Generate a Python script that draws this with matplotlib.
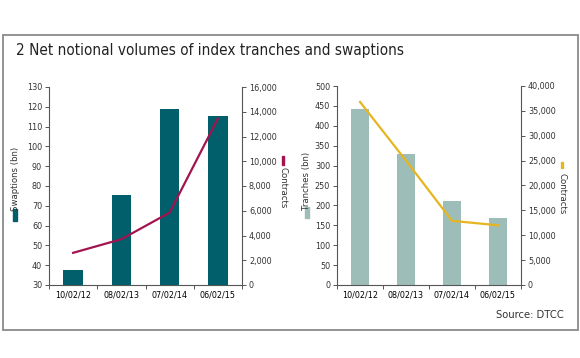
import matplotlib
matplotlib.use("Agg")
import matplotlib.pyplot as plt
from matplotlib.patches import Rectangle
import numpy as np

DATES = ["10/02/12", "08/02/13", "07/02/14", "06/02/15"]
SWAPTIONS_BN = [37.6, 75.6, 119.0, 115.5]
SWAPTION_CONTRACTS = [2600, 3700, 5850, 13450]
TRANCHES_BN = [441, 329, 211, 168]
TRANCHE_CONTRACTS = [36800, 25000, 12900, 12000]

TEAL = "#005f6b"
CRIMSON = "#a3144f"
SAGE = "#9dbdb8"
GOLD = "#e6b520"
TEXT = "#333333"
AXIS = "#555555"

plt.rcParams["font.family"] = ["DejaVu Sans"]
plt.rcParams["font.stretch"] = "condensed"
plt.rcParams["font.size"] = 6.5

W, H = 580, 358
fig = plt.figure(figsize=(W / 100, H / 100), dpi=100)


def fx(px):
    return px / W


def fy(py):
    return 1 - py / H


def style_axes(ax, ax2):
    for a in (ax, ax2):
        a.spines["top"].set_visible(False)
        for s in a.spines.values():
            s.set_color(AXIS)
            s.set_linewidth(0.8)
        a.tick_params(colors=TEXT, labelsize=6.5, length=3, width=0.7, pad=2, color=AXIS)
    ax.spines["right"].set_visible(False)
    ax2.spines["left"].set_visible(False)
    ax2.spines["bottom"].set_visible(False)
    x = np.arange(len(DATES))
    ax.set_xlim(-0.5, len(DATES) - 0.5)
    ax.set_xticks(np.arange(len(DATES) + 1) - 0.5)
    ax.set_xticklabels([])
    ax.set_xticks(x, minor=True)
    ax.set_xticklabels(DATES, minor=True)
    ax.tick_params(axis="x", which="minor", length=0, pad=4)
    return x


def add_label(text, px, py_top, py_bot, rotation, mark_top, mark_bot, mark_w, color):
    fig.text(fx(px), (fy(py_top) + fy(py_bot)) / 2, text, rotation=rotation,
             ha="center", va="center", color=TEXT, fontsize=6.8)
    fig.patches.append(Rectangle((fx(px - mark_w / 2), fy(mark_bot)), fx(mark_w),
                                 fy(mark_top) - fy(mark_bot), color=color,
                                 transform=fig.transFigure, figure=fig))


# left panel: swaptions
ax1 = fig.add_axes([fx(49), fy(285), fx(242 - 49), fy(87) - fy(285)])
ax1b = ax1.twinx()
x = style_axes(ax1, ax1b)
ax1.bar(x, [v - 30 for v in SWAPTIONS_BN], bottom=30, width=0.4, color=TEAL)
ax1.set_ylim(30, 130)
ax1.set_yticks(range(30, 131, 10))
ax1b.plot(x, SWAPTION_CONTRACTS, color=CRIMSON, lw=1.6)
ax1b.set_ylim(0, 16000)
ax1b.set_yticks(range(0, 16001, 2000))
ax1b.set_yticklabels([f"{v:,}" for v in range(0, 16001, 2000)])
add_label("Swaptions (bn)", 15, 151, 206, 90, 209, 221, 3.5, TEAL)
add_label("Contracts", 283, 169, 207, 270, 156, 165, 2, CRIMSON)

# right panel: tranches
ax2 = fig.add_axes([fx(337), fy(285), fx(521 - 337), fy(86) - fy(285)])
ax2b = ax2.twinx()
x = style_axes(ax2, ax2b)
ax2.bar(x, TRANCHES_BN, width=0.4, color=SAGE)
ax2.set_ylim(0, 500)
ax2.set_yticks(range(0, 501, 50))
ax2b.plot(x, TRANCHE_CONTRACTS, color=GOLD, lw=1.6)
ax2b.set_ylim(0, 40000)
ax2b.set_yticks(range(0, 40001, 5000))
ax2b.set_yticklabels([f"{v:,}" for v in range(0, 40001, 5000)])
add_label("Tranches (bn)", 307, 158, 204, 90, 207, 218, 3.5, SAGE)
add_label("Contracts", 562, 176, 211, 270, 162, 168, 2, GOLD)

# frame, title, source
fig.patches.append(Rectangle((fx(3), fy(330)), fx(575), fy(35) - fy(330), fill=False,
                             edgecolor="#8a8a8a", lw=1.3, transform=fig.transFigure, figure=fig))
fig.text(fx(16), fy(51), "2 Net notional volumes of index tranches and swaptions",
         ha="left", va="center", fontsize=11, color="#222222")
fig.text(fx(564), fy(315), "Source: DTCC", ha="right", va="center", fontsize=8, color=TEXT)

fig.savefig("out.png", dpi=100, facecolor="white")
